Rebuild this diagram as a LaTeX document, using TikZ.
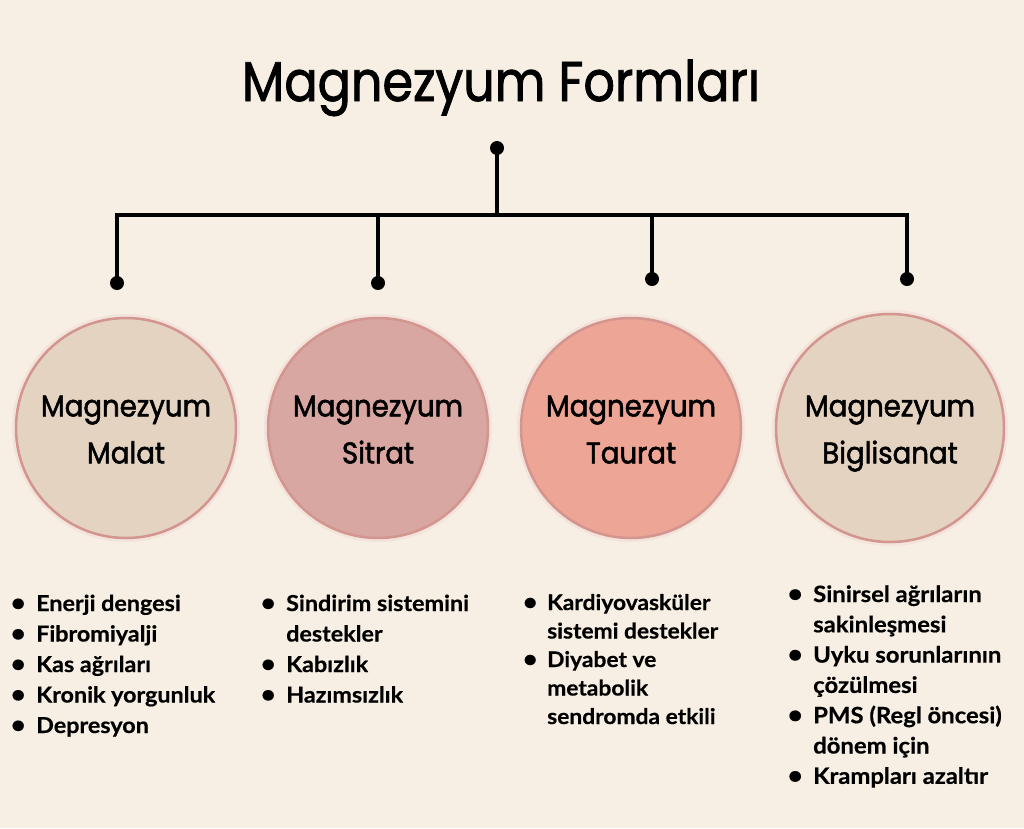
\documentclass[tikz,border=0pt]{standalone}
\usepackage{fontspec}
\setmainfont{Lato}[FakeStretch=1.06, BoldFeatures={FakeBold=0.5}]
\newfontfamily\titlefont{Poppins}[FakeStretch=0.88, FakeBold=1.5]
\newfontfamily\bubblefont{Poppins}[FakeStretch=0.92, FakeBold=1.8]
\definecolor{bg}{HTML}{F7EFE3}
\definecolor{ring}{HTML}{D3958F}
\definecolor{ringout}{HTML}{F3E3DA}
\definecolor{cA}{HTML}{E4D3C1}
\definecolor{cB}{HTML}{D9A7A1}
\definecolor{cC}{HTML}{EDA595}
\definecolor{cD}{HTML}{E4D3C1}
\newcommand\bul{\makebox[0pt][c]{\scalebox{1.1}{\textbullet}}}
\newcommand\topstrut{\rule{0pt}{32pt}}
\tikzset{
  conn/.style={line width=4pt, black},
  dotnode/.style={circle, fill=black, inner sep=0pt, minimum size=14pt},
  bubble/.style={circle, draw=ring, line width=2.5pt, inner sep=0pt, align=center,
    font=\bubblefont\fontsize{30}{47}\selectfont},
  listnode/.style={anchor=base west, inner sep=0pt, font=\bfseries\fontsize{22}{30.5}\selectfont},
}
\begin{document}
\begin{tikzpicture}[x=1pt,y=-1pt]
\path[fill=bg, use as bounding box] (0,0) rectangle (1024,828);

\node[anchor=base, inner sep=0pt, font=\titlefont\fontsize{56}{60}\selectfont] (title) at (501,101) {Magnezyum Formları};

\node[dotnode] (top) at (497,148) {};
\coordinate (hub) at (497,215);
\coordinate (L) at (117,215);
\coordinate (R) at (907,215);
\coordinate (j2) at (378,215);
\coordinate (j3) at (652,215);
\node[dotnode] (d1) at (117,283) {};
\node[dotnode] (d2) at (378,283) {};
\node[dotnode] (d3) at (652,279) {};
\node[dotnode] (d4) at (907,279) {};
\draw[conn] (top.center) -- (hub);
\draw[conn] (d1.center) -- (L) -- (R) -- (d4.center);
\draw[conn] (j2) -- (d2.center);
\draw[conn] (j3) -- (d3.center);

\foreach \x/\y/\r in {126/428/110, 378/428/110, 631/428/110, 890/428/114}
  \draw[ringout, line width=3pt] (\x,\y) circle[radius=\r+2.5];
\node[bubble, fill=cA, minimum size=220pt] (m1) at (126,428) {\topstrut Magnezyum\\Malat\vphantom{g}};
\node[bubble, fill=cB, minimum size=220pt] (m2) at (378,428) {\topstrut Magnezyum\\Sitrat\vphantom{g}};
\node[bubble, fill=cC, minimum size=220pt] (m3) at (631,428) {\topstrut Magnezyum\\Taurat\vphantom{g}};
\node[bubble, fill=cD, minimum size=228pt] (m4) at (890,428) {\topstrut Magnezyum\\Biglisanat};

\node[listnode] (l1) at (18,611) {\begin{tabular}[t]{@{}l@{\hspace{18pt}}l@{}}
\bul & Enerji dengesi\\
\bul & Fibromiyalji\\
\bul & Kas ağrıları\\
\bul & Kronik yorgunluk\\
\bul & Depresyon
\end{tabular}};
\node[listnode] (l2) at (268,611) {\begin{tabular}[t]{@{}l@{\hspace{18pt}}l@{}}
\bul & Sindirim sistemini\\
 & destekler\\
\bul & Kabızlık\\
\bul & Hazımsızlık
\end{tabular}};
\node[listnode, font=\bfseries\fontsize{21.5}{28.5}\selectfont] (l3) at (530,610) {\begin{tabular}[t]{@{}l@{\hspace{17pt}}l@{}}
\bul & Kardiyovasküler\\
 & sistemi destekler\\
\bul & Diyabet ve\\
 & metabolik\\
 & sendromda etkili
\end{tabular}};
\node[listnode, font=\bfseries\fontsize{22.5}{30.3}\selectfont] (l4) at (795,602) {\begin{tabular}[t]{@{}l@{\hspace{18pt}}l@{}}
\bul & Sinirsel ağrıların\\
 & sakinleşmesi\\
\bul & Uyku sorunlarının\\
 & çözülmesi\\
\bul & PMS (Regl öncesi)\\
 & dönem için\\
\bul & Krampları azaltır
\end{tabular}};
\end{tikzpicture}
\end{document}
